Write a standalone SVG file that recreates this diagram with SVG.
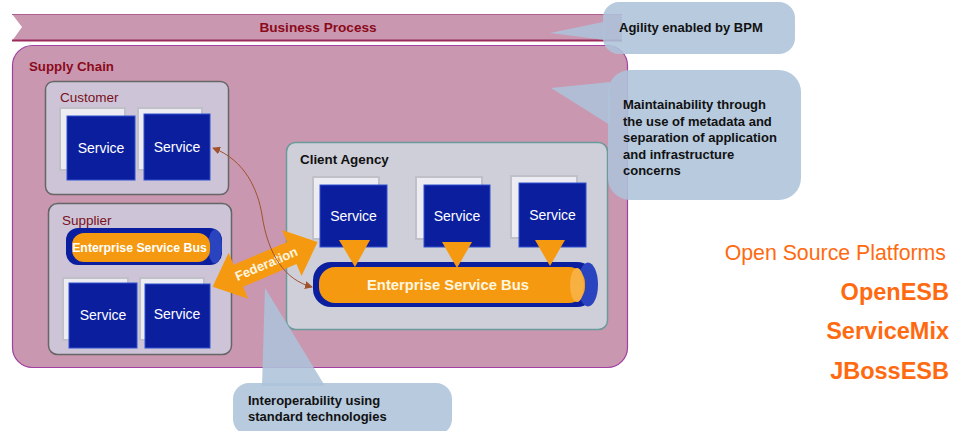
<svg xmlns="http://www.w3.org/2000/svg" width="954" height="431" viewBox="0 0 954 431">
<defs>
<style>
.svc{fill:#0b1f9e;stroke:#3050d0;stroke-width:1}
.shd{fill:#ececf2;stroke:#c0c0c8;stroke-width:2}
.st{font-family:"Liberation Sans",Arial,sans-serif;font-size:14px;fill:#ffffff;text-anchor:middle}
.lbl{font-family:"Liberation Sans",Arial,sans-serif;font-size:13.5px;fill:#7a1020}
.cl{fill:#adc3d9;opacity:0.88}
.ct{font-family:"Liberation Sans",Arial,sans-serif;font-size:13px;font-weight:bold;fill:#111}
.tri{fill:#f59a10}
.os{font-family:"Liberation Sans",Arial,sans-serif;fill:#ff6a10;text-anchor:end}
</style>
<marker id="ah" markerWidth="8" markerHeight="8" refX="7" refY="4" orient="auto-start-reverse" markerUnits="userSpaceOnUse">
<path d="M0,0 L8,4 L0,8 Z" fill="#a0522d"/>
</marker>
</defs>
<rect width="954" height="431" fill="#ffffff"/>

<g id="business-process">
<path d="M12,14 L622,14 L622,41 L12,41 L22,27 Z" fill="#c997b0"/>
<line x1="12" y1="14.5" x2="622" y2="14.5" stroke="#b06090" stroke-width="1"/>
<line x1="12" y1="40.5" x2="622" y2="40.5" stroke="#9b2a5a" stroke-width="2"/>
<text x="318" y="32" text-anchor="middle" font-family="Liberation Sans,Arial,sans-serif" font-size="13.6px" font-weight="bold" fill="#8b0a1a">Business Process</text>
</g>

<g id="supply-chain">
<rect x="12.5" y="45.5" width="615" height="322" rx="20" fill="#c997b0" stroke="#a040a0" stroke-width="1.2"/>
<text x="29" y="71" font-family="Liberation Sans,Arial,sans-serif" font-size="13.3px" font-weight="bold" fill="#8b0a1a">Supply Chain</text>
</g>

<g id="customer">
<rect x="45.5" y="81.5" width="183" height="113" rx="8" fill="#cdc4d8" stroke="#666" stroke-width="1.5"/>
<text x="60" y="102" class="lbl">Customer</text>
<rect x="60" y="108" width="65" height="62" class="shd"/>
<rect x="138" y="108" width="64" height="62" class="shd"/>
<rect x="67" y="116" width="68" height="64" class="svc"/>
<rect x="144" y="114" width="66" height="66" class="svc"/>
<text x="101" y="153" class="st">Service</text>
<text x="177" y="152" class="st">Service</text>
</g>

<g id="supplier">
<rect x="48.5" y="203.5" width="183" height="151" rx="9" fill="#cdc4d8" stroke="#666" stroke-width="1.5"/>
<text x="62" y="225" class="lbl">Supplier</text>
<rect x="66" y="228" width="156" height="37" rx="12" fill="#0b1f9e"/>
<ellipse cx="215" cy="246.5" rx="7" ry="17" fill="#2a44c0"/>
<rect x="72" y="233" width="138" height="29" rx="12" fill="#f59a10"/>
<text x="139.5" y="252" text-anchor="middle" font-family="Liberation Sans,Arial,sans-serif" font-size="12.3px" font-weight="bold" fill="#ffffff">Enterprise Service Bus</text>
<rect x="63" y="278" width="65" height="62" class="shd"/>
<rect x="140" y="278" width="64" height="62" class="shd"/>
<rect x="69" y="283" width="68" height="65" class="svc"/>
<rect x="145" y="284" width="65" height="64" class="svc"/>
<text x="103" y="320" class="st">Service</text>
<text x="177" y="319" class="st">Service</text>
</g>

<g id="client-agency">
<rect x="286.5" y="142.5" width="321" height="187" rx="9" fill="#cfcfd9" stroke="#6a9a9a" stroke-width="1.5"/>
<text x="300" y="164" font-family="Liberation Sans,Arial,sans-serif" font-size="13.4px" font-weight="bold" fill="#111">Client Agency</text>
<rect x="313" y="177" width="66" height="62" class="shd"/>
<rect x="416" y="177" width="66" height="62" class="shd"/>
<rect x="511" y="176" width="66" height="62" class="shd"/>
<rect x="320" y="185" width="67" height="62" class="svc"/>
<rect x="424" y="185" width="66" height="62" class="svc"/>
<rect x="519" y="183" width="67" height="64" class="svc"/>
<text x="353.5" y="221" class="st">Service</text>
<text x="457" y="221" class="st">Service</text>
<text x="552.5" y="220" class="st">Service</text>
<rect x="313" y="262" width="282" height="45" rx="18" fill="#0b1f9e"/>
<ellipse cx="588" cy="284.5" rx="10" ry="22" fill="#2a44c0"/>
<rect x="319" y="267" width="266" height="36" rx="16" fill="#f59a10"/>
<ellipse cx="577" cy="285" rx="7" ry="17" fill="#f8b040"/>
<text x="448" y="290" text-anchor="middle" font-family="Liberation Sans,Arial,sans-serif" font-size="14.8px" font-weight="bold" fill="#fff6e0">Enterprise Service Bus</text>
<path d="M339,240 L370,240 L355,267 Z" class="tri"/>
<path d="M442,242 L472,242 L457,268 Z" class="tri"/>
<path d="M535,240 L565,240 L550,266 Z" class="tri"/>
</g>

<g id="federation">
<path d="M-30,-12 L28,-12 L28,-25 L56,0 L28,25 L28,12 L-30,12 L-30,25 L-58,0 L-30,-25 Z" fill="#f59a10" transform="translate(266,264) rotate(-23)"/>
<text x="0" y="0" transform="translate(268,268) rotate(-23)" text-anchor="middle" font-family="Liberation Sans,Arial,sans-serif" font-size="13px" font-weight="bold" fill="#fff6e0">Federation</text>
</g>

<g id="connectors">
<path d="M213,148 C245,160 258,190 262,215 C268,255 285,280 312,287" fill="none" stroke="#a0522d" stroke-width="1" marker-start="url(#ah)" marker-end="url(#ah)"/>
</g>

<g id="callout-agility">
<path d="M603,22 L550,33 L605,40 Z" class="cl"/>
<rect x="603" y="2" width="192" height="52" rx="16" class="cl"/>
<text x="619" y="32" class="ct" font-size="13.4px">Agility enabled by BPM</text>
</g>

<g id="callout-maintainability">
<path d="M610,82 L551,88 L610,125 Z" class="cl"/>
<rect x="608" y="70" width="193" height="130" rx="22" class="cl"/>
<text class="ct"><tspan x="623" y="109">Maintainability through</tspan><tspan x="623" y="125.5">the use of metadata and</tspan><tspan x="623" y="142">separation of application</tspan><tspan x="623" y="158.5">and infrastructure</tspan><tspan x="623" y="175">concerns</tspan></text>
</g>

<g id="callout-interoperability">
<path d="M265,288 L262,386 L325,386 Z" class="cl"/>
<rect x="233" y="383" width="219" height="52" rx="16" class="cl"/>
<text class="ct" font-size="13.5px"><tspan x="248" y="405">Interoperability using</tspan><tspan x="248" y="421">standard technologies</tspan></text>
</g>

<g id="platforms">
<text x="946" y="260" class="os" font-size="21.3px">Open Source Platforms</text>
<text x="949" y="300" class="os" font-size="23.5px" font-weight="bold">OpenESB</text>
<text x="949" y="339" class="os" font-size="23.5px" font-weight="bold">ServiceMix</text>
<text x="949" y="379" class="os" font-size="23.5px" font-weight="bold">JBossESB</text>
</g>
</svg>
